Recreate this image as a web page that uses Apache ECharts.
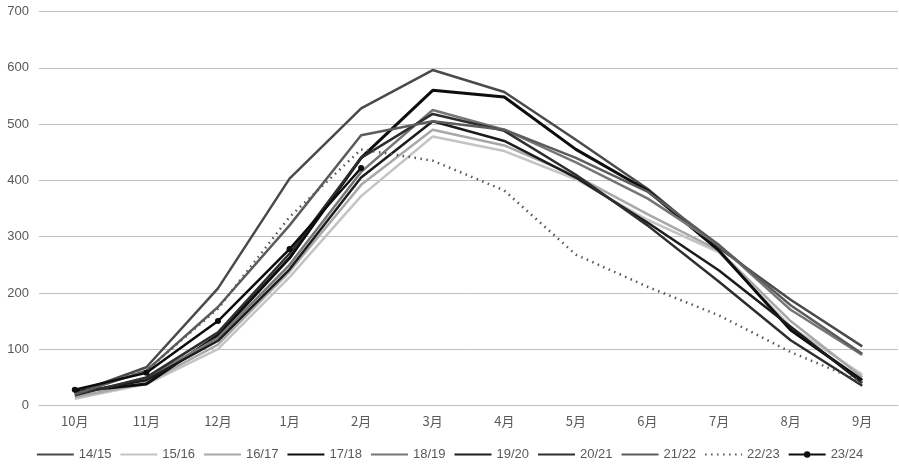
<!DOCTYPE html>
<html><head><meta charset="utf-8">
<script src="https://cdn.jsdelivr.net/npm/echarts@6/dist/echarts.min.js"></script>
<style>html,body{margin:0;padding:0;background:#fff}#c{width:899px;height:469px}</style>
</head><body><div id="c"></div>
<script>
const categories = ['10月','11月','12月','1月','2月','3月','4月','5月','6月','7月','8月','9月'];
const yTicks = [0,100,200,300,400,500,600,700];
const s1415 = [22, 68, 208, 403, 528, 596, 557, 472, 385, 280, 188, 105];
const s1516 = [12, 38, 100, 228, 372, 478, 452, 402, 330, 272, 140, 55];
const s1617 = [15, 40, 108, 238, 392, 490, 462, 408, 340, 275, 150, 50];
const s1718 = [25, 38, 125, 262, 440, 560, 548, 455, 382, 275, 134, 45];
const s1819 = [20, 48, 120, 250, 415, 525, 490, 432, 368, 285, 170, 90];
const s1920 = [22, 45, 115, 242, 405, 505, 470, 405, 325, 240, 140, 40];
const s2021 = [18, 50, 130, 270, 440, 518, 488, 410, 320, 220, 116, 35];
const s2122 = [20, 62, 175, 320, 480, 505, 490, 440, 380, 285, 178, 92];
const s2223 = [25, 62, 172, 335, 455, 435, 382, 268, 211, 160, 95, 42];
const s2324 = [28, 58, 150, 278, 422];
const names = ['14/15','15/16','16/17','17/18','18/19','19/20','20/21','21/22','22/23','23/24'];
const datas = [s1415,s1516,s1617,s1718,s1819,s1920,s2021,s2122,s2223,s2324];
const colors = ['#4a4a4a','#c4c4c4','#a8a8a8','#0d0d0d','#767676','#1c1c1c','#2e2e2e','#5c5c5c','#555555','#0d0d0d'];
const widths = [2.5,2.5,2.5,3,2.5,2.5,2.5,2.5,2.5,2.5];

const series = names.map((n,i)=>({
  name:n, type:'line', data:datas[i], smooth:false,
  symbol: i===9 ? 'circle' : 'none', symbolSize: 6,
  lineStyle:{color:colors[i], width:widths[i], type: i===8 ? [1.5,4.5] : 'solid'},
  itemStyle:{color:colors[i]},
  z: i===9 ? 10 : 2
}));

const legendData = names.map((n,i)=> i===9 ? {name:n} : {name:n, itemStyle:{opacity:0}});

const chart = echarts.init(document.getElementById('c'));
chart.setOption({
  animation:false,
  grid:{left:39, right:1, top:11.5, bottom:63.5},
  legend:{
    bottom:3, left:'center', itemWidth:37, itemHeight:8, itemGap:8,
    textStyle:{color:'#595959', fontSize:13, fontFamily:'Liberation Sans Narrow, Liberation Sans, sans-serif'},
    data:legendData
  },
  xAxis:{
    type:'category', data:categories, boundaryGap:true,
    axisLine:{lineStyle:{color:'#bfbfbf'}}, axisTick:{show:false},
    axisLabel:{color:'#595959', fontSize:13, margin:9, fontFamily:'Noto Sans CJK SC, sans-serif'}
  },
  yAxis:{
    type:'value', min:yTicks[0], max:yTicks[yTicks.length-1], interval:100,
    axisLine:{show:false}, axisTick:{show:false},
    axisLabel:{color:'#595959', fontSize:13, margin:10, fontFamily:'Liberation Sans, sans-serif'},
    splitLine:{lineStyle:{color:'#bfbfbf', width:1}}
  },
  series:series
});
</script></body></html>
